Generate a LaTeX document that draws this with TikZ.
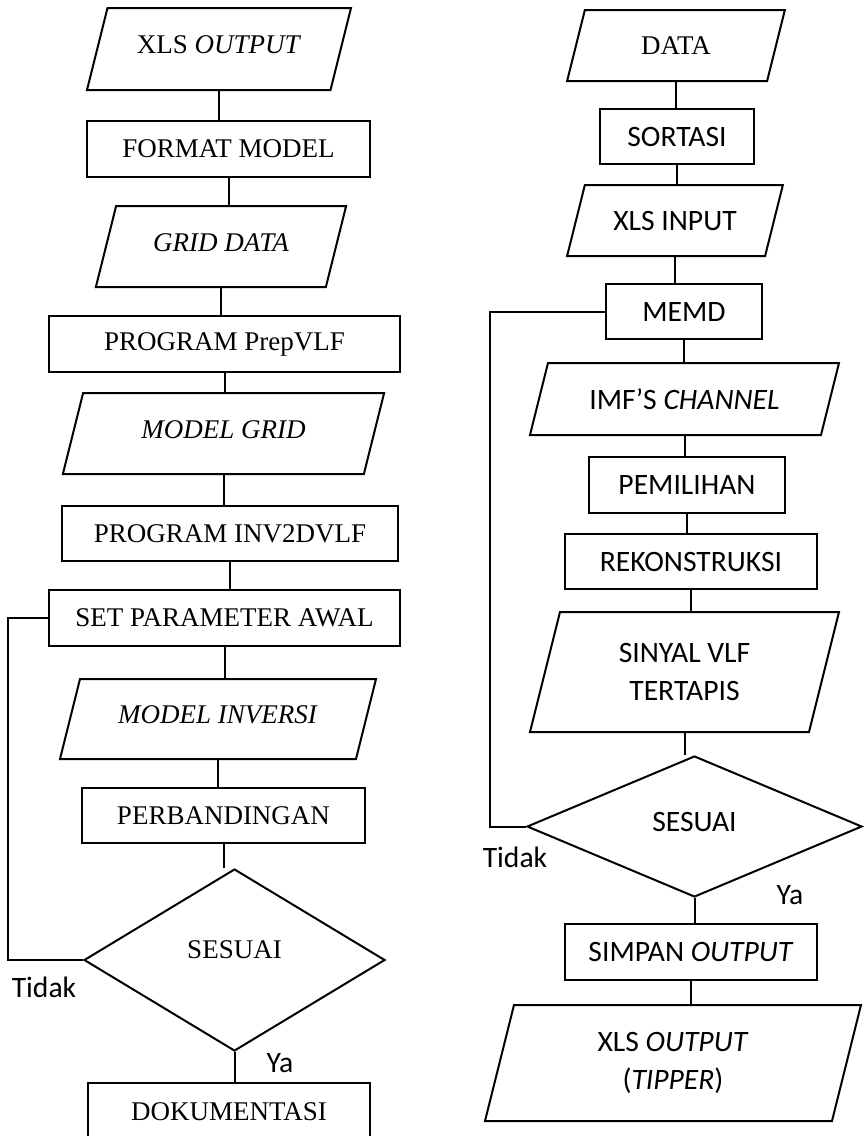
\documentclass[tikz,border=0pt]{standalone}
\usepackage{fontspec}
\setmainfont{Liberation Serif}
\newfontfamily\calibri{Carlito}
\usetikzlibrary{shapes.geometric,calc}

% slanted outline round an io node
\newcommand{\ioframe}[1]{%
  \draw let \p1=(#1.north), \p2=(#1.south), \n1={0.125*(\y1-\y2)} in
    ([xshift=\n1]#1.north west) -- ([xshift=\n1]#1.north east)
    -- ([xshift=-\n1]#1.south east) -- ([xshift=-\n1]#1.south west) -- cycle;}

\begin{document}
\begin{tikzpicture}[x=1pt,y=-1pt,line width=2pt,
    serif/.style={font=\fontsize{27}{33}\selectfont},
    sans/.style={font=\calibri\fontsize{29.6}{38}\selectfont},
    procbox/.style={draw, rectangle, inner sep=2pt},
    iobox/.style={rectangle, inner sep=2pt, outer sep=0pt, align=center},
    decide/.style={draw, diamond, inner sep=0pt},
    flowlabel/.style={sans, inner sep=0pt}]
    \useasboundingbox (0,0) rectangle (863,1136); %page size of the reference

    %Left chart
    \node[iobox, serif, text depth=8pt, minimum width=243.5pt, minimum height=82pt] (xlsout) at (219,49) {XLS \textit{OUTPUT}};
    \node[procbox, serif, minimum width=283pt, minimum height=56pt] (fmt) at (228.5,149) {FORMAT MODEL};
    \node[iobox, serif, text depth=8pt, minimum width=230pt, minimum height=81pt] (grid) at (221,246.5) {\textit{GRID DATA}};
    \node[procbox, serif, minimum width=351pt, minimum height=56pt] (prep) at (224.5,344) {PROGRAM PrepVLF};
    \node[iobox, serif, text depth=8pt, minimum width=301pt, minimum height=81pt] (mgrid) at (223.5,433.5) {\textit{MODEL GRID}};
    \node[procbox, serif, minimum width=336pt, minimum height=55pt] (inv) at (230,533.5) {PROGRAM INV2DVLF};
    \node[procbox, serif, minimum width=351pt, minimum height=56pt] (setp) at (224.5,618) {SET PARAMETER AWAL};
    \node[iobox, serif, text depth=8pt, minimum width=296pt, minimum height=80pt] (minv) at (218,719) {\textit{MODEL INVERSI}};
    \node[procbox, serif, minimum width=283pt, minimum height=55pt] (banding) at (223.5,815.5) {PERBANDINGAN};
    \node[decide, serif, text depth=20pt, minimum width=301pt, minimum height=182pt] (sesuaiL) at (234.5,960) {SESUAI};
    \node[procbox, serif, minimum width=282pt, minimum height=57pt] (doku) at (229,1111.5) {DOKUMENTASI};
    \node[flowlabel] (tidakL) at (44,987) {Tidak};
    \node[flowlabel] (yaL) at (280,1063) {Ya};
    \coordinate (backL) at (8,960);
    \ioframe{xlsout} \ioframe{grid} \ioframe{mgrid} \ioframe{minv}

    \draw (xlsout.south) -- (xlsout.south |- fmt.north);
    \draw (fmt.south) -- (fmt.south |- grid.north);
    \draw (grid.south) -- (grid.south |- prep.north);
    \draw (prep.south) -- (prep.south |- mgrid.north);
    \draw (mgrid.south) -- (mgrid.south |- inv.north);
    \draw (inv.south) -- (inv.south |- setp.north);
    \draw (setp.south) -- (setp.south |- minv.north);
    \draw (minv.south) -- (minv.south |- banding.north);
    \draw (banding.south) -- (banding.south |- sesuaiL.north);
    \draw (sesuaiL.south) -- (sesuaiL.south |- doku.north);
    \draw (sesuaiL.west) -- (sesuaiL.west -| backL) |- (setp.west);

    %Right chart
    \node[iobox, serif, minimum width=200pt, minimum height=71pt] (data) at (676,45.5) {DATA};
    \node[procbox, sans, minimum width=154pt, minimum height=55pt] (sort) at (677,136.5) {SORTASI};
    \node[iobox, sans, minimum width=198pt, minimum height=71pt] (xlsin) at (675,220.5) {XLS INPUT};
    \node[procbox, sans, minimum width=156pt, minimum height=55pt] (memd) at (684,311.5) {MEMD};
    \node[iobox, sans, minimum width=291pt, minimum height=72pt] (imf) at (684.5,399) {IMF’S \textit{CHANNEL}};
    \node[procbox, sans, minimum width=196pt, minimum height=56pt] (pilih) at (687,485) {PEMILIHAN};
    \node[procbox, sans, minimum width=252pt, minimum height=55pt] (rekon) at (691,561.5) {REKONSTRUKSI};
    \node[iobox, sans, minimum width=279pt, minimum height=120pt] (sinyal) at (684.5,672) {SINYAL VLF\\TERTAPIS};
    \node[decide, sans, text depth=9pt, minimum width=335pt, minimum height=141pt] (sesuaiR) at (694.5,826.5) {SESUAI};
    \node[procbox, sans, minimum width=252pt, minimum height=56pt] (simpan) at (691,952) {SIMPAN \textit{OUTPUT}};
    \node[iobox, sans, minimum width=347pt, minimum height=116pt] (xlsout2) at (673,1063) {XLS \textit{OUTPUT}\\(\textit{TIPPER})};
    \node[flowlabel] (tidakR) at (515,857) {Tidak};
    \node[flowlabel] (yaR) at (790,895) {Ya};
    \coordinate (backR) at (490,826.5);
    \ioframe{data} \ioframe{xlsin} \ioframe{imf} \ioframe{sinyal} \ioframe{xlsout2}

    \draw (data.south) -- (data.south |- sort.north);
    \draw (sort.south) -- (sort.south |- xlsin.north);
    \draw (xlsin.south) -- (xlsin.south |- memd.north);
    \draw (memd.south) -- (memd.south |- imf.north);
    \draw (imf.south) -- (imf.south |- pilih.north);
    \draw (pilih.south) -- (pilih.south |- rekon.north);
    \draw (rekon.south) -- (rekon.south |- sinyal.north);
    \draw (sinyal.south) -- (sinyal.south |- sesuaiR.north);
    \draw (sesuaiR.south) -- (sesuaiR.south |- simpan.north);
    \draw (simpan.south) -- (simpan.south |- xlsout2.north);
    \draw (sesuaiR.west) -- (sesuaiR.west -| backR) |- (memd.west);
\end{tikzpicture}
\end{document}
